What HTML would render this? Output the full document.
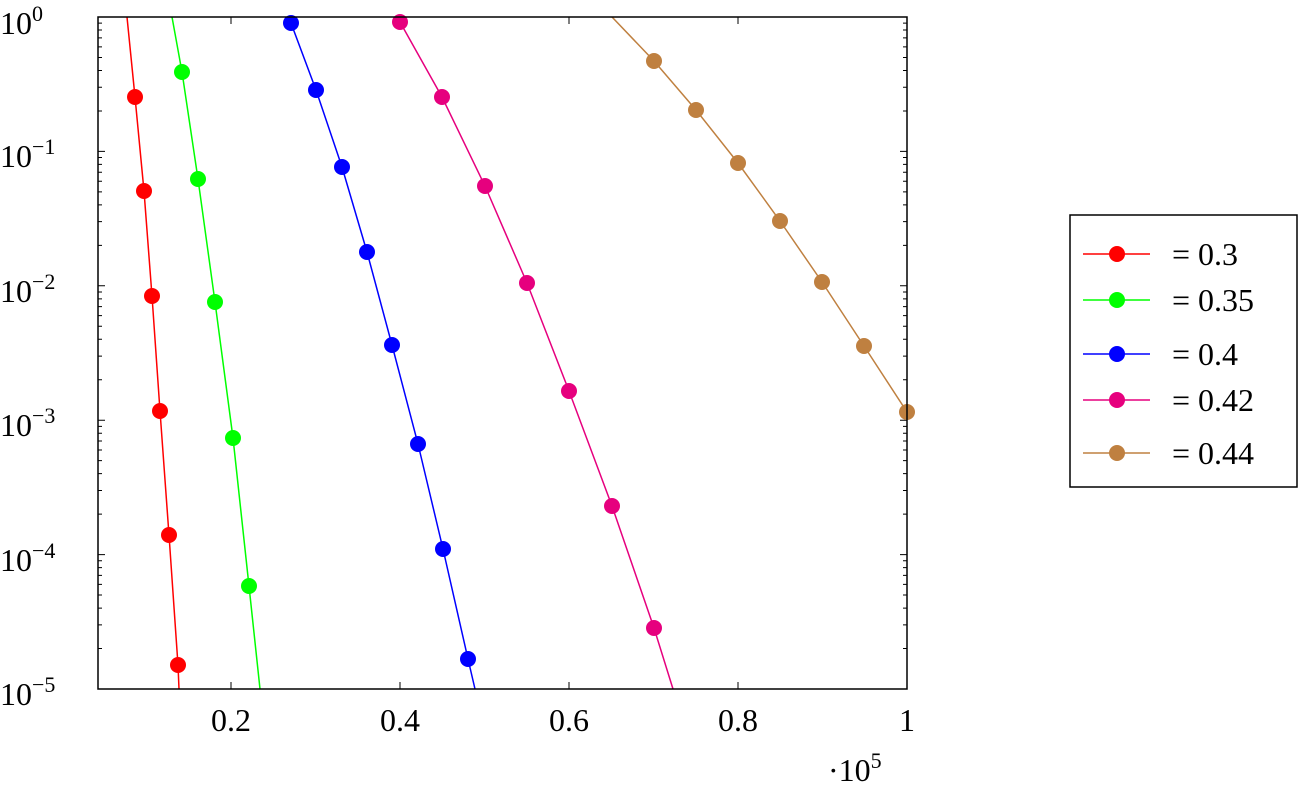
<!DOCTYPE html>
<html><head><meta charset="utf-8"><style>body{margin:0;background:#fff}svg{display:block}text{font-family:"Liberation Serif",serif;fill:#000}</style></head><body>
<svg width="1303" height="791" viewBox="0 0 1303 791" xmlns="http://www.w3.org/2000/svg">
<defs>
<clipPath id="c"><rect x="98" y="17" width="809" height="672"/></clipPath>
<path id="dec" d="M98 6.15h4M98 13.03h4M98 20.82h4M98 29.82h4M98 40.46h4M98 53.48h4M98 70.28h4M98 93.94h4M903 6.15h4M903 13.03h4M903 20.82h4M903 29.82h4M903 40.46h4M903 53.48h4M903 70.28h4M903 93.94h4" stroke="#000" stroke-width="1"/>
</defs>
<use href="#dec" transform="translate(0,17)"/>
<use href="#dec" transform="translate(0,151.4)"/>
<use href="#dec" transform="translate(0,285.8)"/>
<use href="#dec" transform="translate(0,420.2)"/>
<use href="#dec" transform="translate(0,554.6)"/>
<path stroke="#000" stroke-width="1" d="M98 151.4h7M98 285.8h7M98 420.2h7M98 554.6h7M900 151.4h7M900 285.8h7M900 420.2h7M900 554.6h7M231 689v-7M400 689v-7M569 689v-7M738 689v-7M231 17v7M400 17v7M569 17v7M738 17v7"/>
<g clip-path="url(#c)" fill="none" stroke-width="1.5">
<polyline stroke="#f00" points="127,17 135,97 144,191 152,296 160,411 169,535 178,665 179,689"/>
<polyline stroke="#0f0" points="172,17 182,72 198,179 215,302 233,438 249,586 260,689"/>
<polyline stroke="#00f" points="290,17 291,23 316,90 342,167 367,252 392,345 418,444 443,549 468,659 475,689"/>
<polyline stroke="#e6007e" points="397,17 400,22 442,97 485,186 527,283 569,391 612,506 654,628 673,689"/>
<polyline stroke="#bf8040" points="612,17 654,61 696,110 738,163 780,221 822,282 864,346 907,412"/>
</g>
<g>
<g fill="#f00"><circle cx="135" cy="97" r="8"/><circle cx="144" cy="191" r="8"/><circle cx="152" cy="296" r="8"/><circle cx="160" cy="411" r="8"/><circle cx="169" cy="535" r="8"/><circle cx="178" cy="665" r="8"/></g>
<g fill="#0f0"><circle cx="182" cy="72" r="8"/><circle cx="198" cy="179" r="8"/><circle cx="215" cy="302" r="8"/><circle cx="233" cy="438" r="8"/><circle cx="249" cy="586" r="8"/></g>
<g fill="#00f"><circle cx="291" cy="23" r="8"/><circle cx="316" cy="90" r="8"/><circle cx="342" cy="167" r="8"/><circle cx="367" cy="252" r="8"/><circle cx="392" cy="345" r="8"/><circle cx="418" cy="444" r="8"/><circle cx="443" cy="549" r="8"/><circle cx="468" cy="659" r="8"/></g>
<g fill="#e6007e"><circle cx="400" cy="22" r="8"/><circle cx="442" cy="97" r="8"/><circle cx="485" cy="186" r="8"/><circle cx="527" cy="283" r="8"/><circle cx="569" cy="391" r="8"/><circle cx="612" cy="506" r="8"/><circle cx="654" cy="628" r="8"/></g>
<g fill="#bf8040"><circle cx="654" cy="61" r="8"/><circle cx="696" cy="110" r="8"/><circle cx="738" cy="163" r="8"/><circle cx="780" cy="221" r="8"/><circle cx="822" cy="282" r="8"/><circle cx="864" cy="346" r="8"/><circle cx="907" cy="412" r="8"/></g>
</g>
<rect x="98" y="17" width="809" height="672" fill="none" stroke="#000" stroke-width="1.5"/>
<g font-size="32">
<text x="0" y="34">10<tspan font-size="22" dy="-13">0</tspan></text>
<text x="0" y="167">10<tspan font-size="22" dy="-13">−1</tspan></text>
<text x="0" y="302">10<tspan font-size="22" dy="-13">−2</tspan></text>
<text x="0" y="436">10<tspan font-size="22" dy="-13">−3</tspan></text>
<text x="0" y="571">10<tspan font-size="22" dy="-13">−4</tspan></text>
<text x="0" y="705">10<tspan font-size="22" dy="-13">−5</tspan></text>
<g text-anchor="middle"><text x="231" y="731">0.2</text><text x="400" y="731">0.4</text><text x="569" y="731">0.6</text><text x="738" y="731">0.8</text><text x="907" y="731">1</text></g>
<text x="828" y="781">·10<tspan font-size="22" dy="-13">5</tspan></text>
</g>
<rect x="1070" y="215" width="227" height="272" fill="#fff" stroke="#000" stroke-width="1.5"/>
<g stroke-width="1.5" font-size="32">
<line x1="1083" y1="254" x2="1150" y2="254" stroke="#f00"/><circle cx="1117" cy="254" r="8" fill="#f00"/><text x="1172" y="265">= 0.3</text>
<line x1="1083" y1="300" x2="1150" y2="300" stroke="#0f0"/><circle cx="1117" cy="300" r="8" fill="#0f0"/><text x="1172" y="311">= 0.35</text>
<line x1="1083" y1="354" x2="1150" y2="354" stroke="#00f"/><circle cx="1117" cy="354" r="8" fill="#00f"/><text x="1172" y="365">= 0.4</text>
<line x1="1083" y1="400" x2="1150" y2="400" stroke="#e6007e"/><circle cx="1117" cy="400" r="8" fill="#e6007e"/><text x="1172" y="411">= 0.42</text>
<line x1="1083" y1="453" x2="1150" y2="453" stroke="#bf8040"/><circle cx="1117" cy="453" r="8" fill="#bf8040"/><text x="1172" y="464">= 0.44</text>
</g>
</svg>
</body></html>
